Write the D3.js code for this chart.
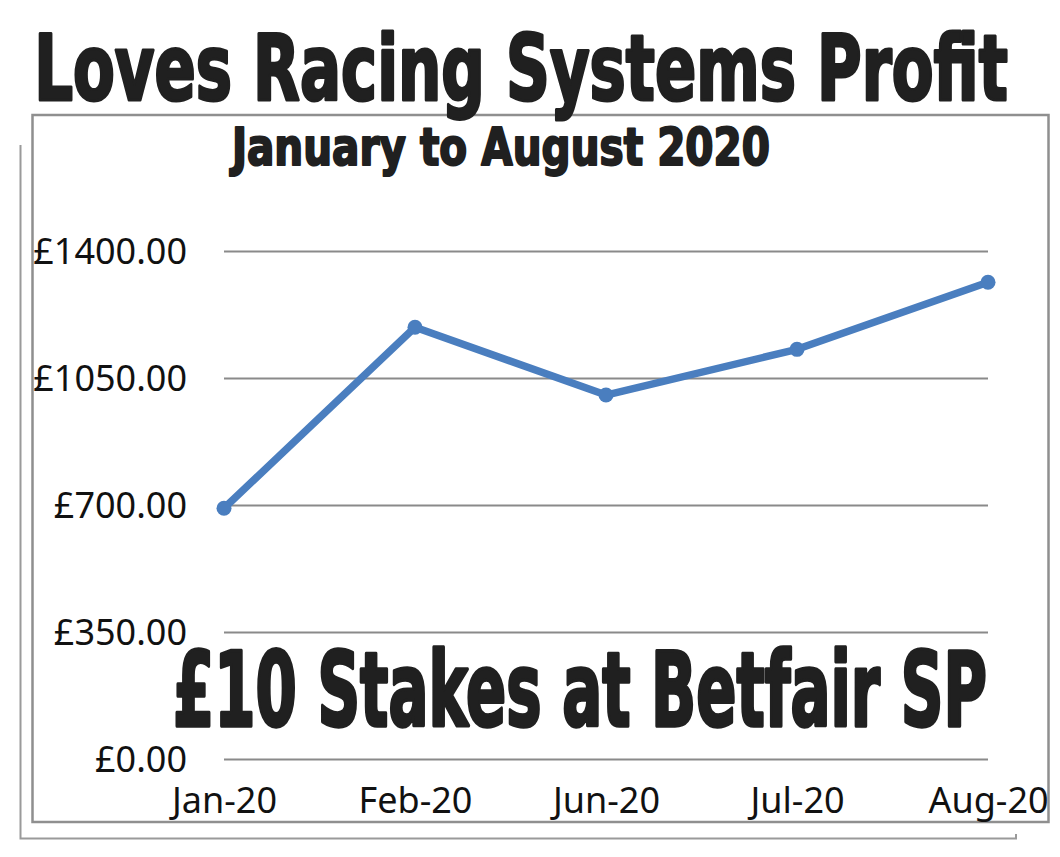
<!DOCTYPE html>
<html>
<head>
<meta charset="utf-8">
<script src="https://cdn.jsdelivr.net/npm/d3@7"></script>
<style>
  html, body { margin: 0; padding: 0; background: #ffffff; }
  svg { display: block; }
</style>
</head>
<body>
<svg id="chart" width="1060" height="857"></svg>
<script>
// Monthly cumulative profit for the racing systems
const months = ["Jan-20", "Feb-20", "Jun-20", "Jul-20", "Aug-20"];
const profit = [691, 1190, 1003, 1129, 1314];
const yTicks = [0, 350, 700, 1050, 1400];

const titleText = "Loves Racing Systems Profit";
const subtitleText = "January to August 2020";
const stakesText = "£10 Stakes at Betfair SP";

const svg = d3.select("#chart");

const x = d3.scalePoint().domain(months).range([224, 988]);
const y = d3.scaleLinear().domain([0, 1400]).range([759, 251]);

const heavyFont = "'DejaVu Sans Condensed', 'DejaVu Sans', sans-serif";
const labelFont = "'Noto Sans', 'Open Sans', sans-serif";
const inkColor = "#202020";

// Back frame: left and bottom edges only
svg.append("path")
  .attr("d", "M20.5,145 V838.5 H1016 V834")
  .attr("fill", "none")
  .attr("stroke", "#9a9a9a")
  .attr("stroke-width", 2);

// Chart area border
svg.append("rect")
  .attr("x", 32.5).attr("y", 115)
  .attr("width", 1016).attr("height", 707)
  .attr("fill", "#ffffff")
  .attr("stroke", "#8f8f8f")
  .attr("stroke-width", 2.5);

// Heavy condensed text, squeezed horizontally to span [left, right]
function heavyText(txt, left, right, baseline, size, weight) {
  const t = svg.append("text")
    .attr("x", 0)
    .attr("y", 0)
    .attr("font-family", heavyFont)
    .attr("font-weight", "bold")
    .attr("font-stretch", "condensed")
    .attr("font-size", size)
    .attr("fill", inkColor)
    .attr("stroke", inkColor)
    .attr("stroke-width", weight)
    .attr("stroke-linejoin", "round")
    .text(txt);
  const natural = t.node().getComputedTextLength() + weight;
  const sx = (right - left) / natural;
  t.attr("transform", `translate(${left + weight * sx / 2},${baseline}) scale(${sx},1)`);
  return t;
}

heavyText(titleText, 33, 1009, 100, 90, 3);
heavyText(subtitleText, 231, 771, 165, 51, 2);

// Value axis with gridlines
const yAxis = d3.axisLeft(y)
  .tickValues(yTicks)
  .tickFormat(d => "£" + d3.format(".2f")(d))
  .tickSize(-(988 - 224))
  .tickPadding(37);

const gy = svg.append("g")
  .attr("transform", "translate(224,0)")
  .call(yAxis);
gy.select(".domain").remove();
gy.selectAll(".tick line")
  .attr("stroke", "#8a8a8a")
  .attr("stroke-width", 2.2);
gy.selectAll(".tick text")
  .attr("font-family", labelFont)
  .attr("font-size", 36)
  .attr("fill", "#111111")
  .attr("dy", "0.36em");

// Category axis labels
const xAxis = d3.axisBottom(x).tickSize(0).tickPadding(0);
const gx = svg.append("g")
  .attr("transform", "translate(0,759)")
  .call(xAxis);
gx.select(".domain").remove();
gx.selectAll(".tick text")
  .attr("font-family", labelFont)
  .attr("font-size", 36)
  .attr("fill", "#111111")
  .attr("dy", null)
  .attr("y", 54);

// Profit line and markers
const data = months.map((m, i) => ({ month: m, value: profit[i] }));

svg.append("path")
  .datum(data)
  .attr("fill", "none")
  .attr("stroke", "#4a7ebf")
  .attr("stroke-width", 7.5)
  .attr("stroke-linejoin", "round")
  .attr("stroke-linecap", "round")
  .attr("d", d3.line().x(d => x(d.month)).y(d => y(d.value)));

svg.append("g").selectAll("circle")
  .data(data)
  .join("circle")
  .attr("cx", d => x(d.month))
  .attr("cy", d => y(d.value))
  .attr("r", 7.5)
  .attr("fill", "#4a7ebf");

heavyText(stakesText, 172, 988, 726, 104, 3.5);
</script>
</body>
</html>
